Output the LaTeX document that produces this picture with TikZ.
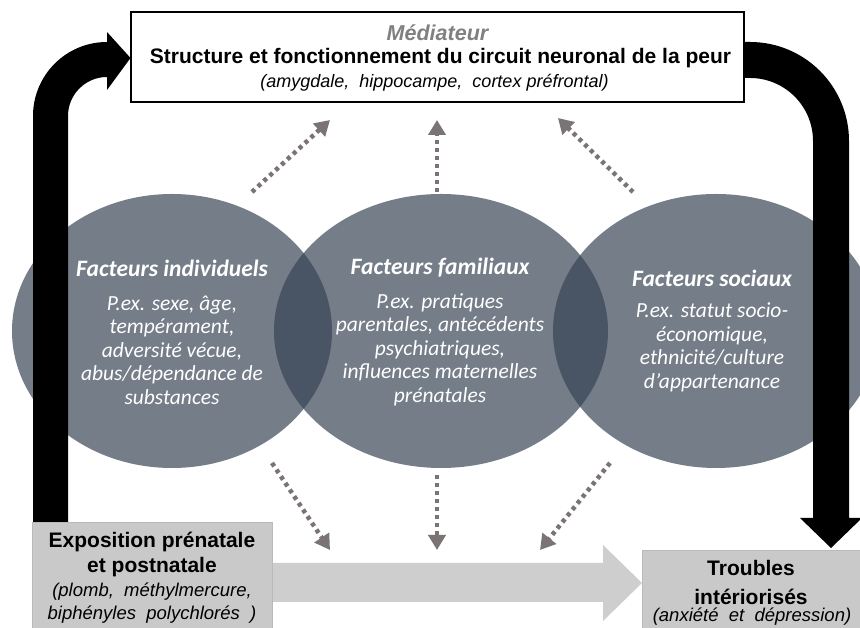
\documentclass[tikz,border=0pt]{standalone}
\usepackage{fontspec}
\setmainfont{Liberation Sans}
\newfontfamily\calib{Carlito}
\usetikzlibrary{arrows.meta}
\definecolor{slate}{RGB}{55,67,84}
\definecolor{dotgray}{RGB}{122,116,116}
\definecolor{boxgray}{RGB}{201,201,201}
\definecolor{boxline}{RGB}{186,186,186}
\definecolor{arrgray}{RGB}{206,206,206}
\definecolor{medgray}{RGB}{128,128,128}
\tikzset{
  venn/.style={fill=slate, fill opacity=0.69, draw=none},
  dotarrow/.style={draw=dotgray, line width=4.5pt, dash pattern=on 4pt off 4pt,
    -{Triangle[length=15pt,width=17pt,fill=dotgray]}},
  bigblack/.style={fill=black, draw=none},
  medbox/.style={draw=black, line width=2.5pt, fill=white, inner sep=0pt},
  lowbox/.style={draw=boxline, line width=1pt, fill=boxgray, inner sep=0pt},
  ctitle/.style={text=white, inner sep=0pt, font=\calib\bfseries\itshape\fontsize{23.5}{26}\selectfont},
  cbody/.style={text=white, inner sep=0pt, align=center, font=\calib\itshape\fontsize{21.5}{23.5}\selectfont},
  boldtxt/.style={inner sep=0pt, font=\bfseries\fontsize{21}{24}\selectfont},
  itxt/.style={inner sep=0pt, font=\itshape\fontsize{18.5}{22}\selectfont},
}
\begin{document}
\begin{tikzpicture}[x=1pt,y=1pt]
\useasboundingbox (0,0) rectangle (860,628);
\fill[white] (0,0) rectangle (860,628);

% Venn ellipses
\fill[venn] (172,297) ellipse [x radius=160, y radius=137];
\fill[venn] (441,297) ellipse [x radius=167, y radius=137];
\fill[venn] (716,297) ellipse [x radius=163, y radius=137];

% circle texts
\node[ctitle] (t1) at (172,360) {Facteurs individuels};
\node[cbody] (b1) at (172,278) {P.ex. sexe, âge,\\tempérament,\\adversité vécue,\\abus/dépendance de\\substances};
\node[ctitle] (t2) at (440,360) {Facteurs familiaux};
\node[cbody] (b2) at (440,278.5) {P.ex. pratiques\\parentales, antécédents\\psychiatriques,\\influences maternelles\\prénatales};
\node[ctitle] (t3) at (712,350) {Facteurs sociaux};
\node[cbody] (b3) at (712,280.5) {P.ex. statut socio-\\économique,\\ethnicité/culture\\d’appartenance};

% big black arrows
\fill[bigblack] (33,105) -- (33,512) arc[start angle=180,end angle=90,radius=74]
  -- (107,596) -- (130.5,570) -- (107,538) -- (107,551)
  arc[start angle=90,end angle=180,radius=39] -- (68,105) -- cycle;
\fill[bigblack] (740,586) -- (750,586) arc[start angle=90,end angle=0,radius=99]
  -- (849,110) -- (862,110) -- (831,80) -- (800,110) -- (813,110) -- (813,487)
  arc[start angle=0,end angle=90,radius=63] -- (740,550) -- cycle;

% mediator box
\node[medbox, minimum width=613pt, minimum height=90pt] (med) at (437.5,571) {};
\node[inner sep=0pt, text=medgray, font=\bfseries\itshape\fontsize{21.5}{24}\selectfont] (medT) at (437.5,595) {Médiateur};
\node[boldtxt] (medS) at (440.5,570) {Structure et fonctionnement du circuit neuronal de la peur};
\node[inner sep=0pt, font=\itshape\fontsize{18}{22}\selectfont] (medP) at (434.5,545) {(amygdale, \ hippocampe, \ cortex préfrontal)};

% big gray arrow
\fill[arrgray] (270,65) -- (603,65) -- (603,83) -- (642,45) -- (603,7) -- (603,26) -- (270,26) -- cycle;

% bottom boxes
\node[lowbox, minimum width=240pt, minimum height=112pt] (expo) at (152,49) {};
\node[boldtxt] (e1) at (152,86) {Exposition prénatale};
\node[boldtxt] (e2) at (152,61) {et postnatale};
\node[itxt] (e3) at (152,36) {(plomb, \ méthylmercure,};
\node[itxt] (e4) at (152,13) {biphényles \ polychlorés \ )};

\node[lowbox, minimum width=224pt, minimum height=84pt] (trou) at (754,35) {};
\node[boldtxt] (r1) at (751,60) {Troubles};
\node[boldtxt] (r2) at (751,31) {intériorisés};
\node[itxt] (r3) at (752,11) {(anxiété \ et \ dépression)};

% dotted arrows
\coordinate (u1s) at (252,436); \coordinate (u1e) at (330,508);
\coordinate (u2s) at (437,436); \coordinate (u2e) at (437,508);
\coordinate (u3s) at (633,436); \coordinate (u3e) at (558,510);
\coordinate (d1s) at (272,165); \coordinate (d1e) at (330,78);
\coordinate (d2s) at (437,153); \coordinate (d2e) at (437,78);
\coordinate (d3s) at (610,165); \coordinate (d3e) at (540,78);
\draw[dotarrow] (u1s) -- (u1e);
\draw[dotarrow] (u2s) -- (u2e);
\draw[dotarrow] (u3s) -- (u3e);
\draw[dotarrow] (d1s) -- (d1e);
\draw[dotarrow] (d2s) -- (d2e);
\draw[dotarrow] (d3s) -- (d3e);
\end{tikzpicture}
\end{document}
